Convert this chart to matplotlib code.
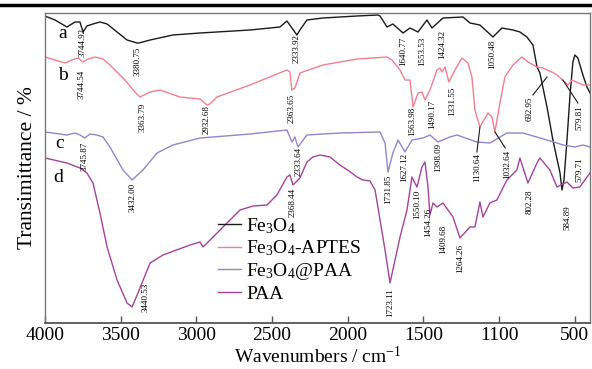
import matplotlib
matplotlib.use('Agg')
import matplotlib.pyplot as plt
from matplotlib.lines import Line2D

plt.rcParams['font.family'] = ['Liberation Serif', 'DejaVu Serif']
plt.rcParams['mathtext.fontset'] = 'custom'
plt.rcParams['mathtext.rm'] = 'Liberation Serif'
plt.rcParams['mathtext.it'] = 'Liberation Serif:italic'

# spectra: wavenumber (cm-1) and transmittance (arbitrary, stacked)
wn_a = [4000, 3934, 3855, 3802, 3769, 3749, 3723, 3683, 3637, 3590, 3524, 3458, 3392, 3379,
        3306, 3155, 2976, 2646, 2448, 2402, 2369, 2336, 2316, 2270, 2164, 1939, 1801, 1787,
        1741, 1702, 1635, 1589, 1536, 1477, 1444, 1371, 1239, 1193, 1127, 1041, 982, 909,
        863, 817, 777, 750, 731, 684, 645, 598, 585, 572, 552, 532, 513, 500, 480, 447, 420, 400]
tr_a = [307, 303, 296, 301, 301, 291, 297, 299, 301, 299, 291, 283, 280, 280,
        283, 288, 290, 293, 296, 302, 295, 288, 293, 303, 305, 307, 308, 307,
        296, 299, 290, 295, 291, 303, 295, 305, 306, 300, 298, 286, 295, 293,
        291, 286, 278, 256, 250, 216, 183, 150, 133, 143, 183, 228, 261, 268, 265, 248, 236, 230]

wn_b = [4000, 3934, 3868, 3822, 3782, 3749, 3716, 3670, 3617, 3571, 3472, 3406, 3373, 3306,
        3240, 3108, 2976, 2930, 2910, 2864, 2646, 2402, 2382, 2369, 2349, 2316, 2164, 1939,
        1741, 1708, 1655, 1622, 1589, 1569, 1536, 1510, 1490, 1457, 1411, 1391, 1378, 1358,
        1332, 1292, 1246, 1206, 1180, 1160, 1127, 1074, 1048, 1028, 995, 962, 909, 850, 810,
        750, 711, 652, 618, 546, 519, 447, 400]
tr_b = [266, 263, 260, 263, 265, 261, 264, 266, 264, 258, 243, 231, 226, 231,
        233, 226, 224, 218, 219, 226, 238, 253, 251, 233, 235, 250, 258, 264,
        266, 263, 253, 243, 243, 216, 230, 231, 223, 233, 253, 255, 251, 256,
        241, 253, 265, 260, 246, 213, 196, 210, 206, 191, 220, 246, 258, 266, 261,
        256, 255, 251, 248, 238, 243, 238, 238]

wn_c = [4000, 3855, 3802, 3769, 3736, 3703, 3657, 3617, 3571, 3485, 3425, 3353, 3260, 3155,
        2976, 2890, 2646, 2402, 2369, 2349, 2329, 2270, 2052, 1787, 1754, 1734, 1702, 1668,
        1622, 1576, 1503, 1457, 1404, 1325, 1279, 1147, 1061, 949, 843, 618, 579, 500, 447, 400]
tr_c = [191, 188, 190, 188, 185, 189, 188, 186, 176, 153, 143, 153, 170, 178,
        185, 186, 189, 193, 181, 186, 176, 188, 190, 191, 180, 151, 170, 183,
        171, 183, 185, 188, 181, 186, 188, 181, 180, 190, 190, 180, 178, 176, 178, 176]

wn_d = [4000, 3855, 3769, 3723, 3683, 3637, 3590, 3524, 3458, 3425, 3386, 3306, 3221, 3042,
        2976, 2956, 2890, 2798, 2712, 2626, 2534, 2468, 2402, 2382, 2362, 2316, 2270, 2230,
        2184, 2118, 2052, 1992, 1939, 1900, 1853, 1820,
        1801, 1754, 1721, 1688, 1655, 1609, 1576, 1543, 1510, 1490, 1470, 1457, 1437, 1411,
        1371, 1305, 1259, 1193, 1160, 1127, 1107, 1061, 1015, 949, 883, 863, 810, 750, 731,
        665, 618, 552, 513, 467, 420, 400]
tr_d = [165, 160, 155, 150, 140, 110, 76, 43, 20, 16, 30, 60, 68, 78,
        81, 76, 86, 100, 113, 117, 118, 128, 146, 148, 138, 145, 161, 166,
        168, 166, 158, 152, 146, 143, 142, 133,
        116, 73, 40, 63, 86, 113, 146, 136, 156, 161, 136, 108, 120, 116,
        120, 106, 85, 96, 96, 121, 106, 120, 123, 143, 153, 165, 140, 160, 165,
        153, 136, 141, 135, 136, 146, 150]

series_names = ['Fe$_3$O$_4$', 'Fe$_3$O$_4$-APTES', 'Fe$_3$O$_4$@PAA', 'PAA']
series_colors = ['#1a1a1a', '#f0808f', '#9585c8', '#a2449c']
series_letters = ['a', 'b', 'c', 'd']

# peak labels: text, wavenumber, top of text
peak_text = ['3744.92', '3380.75', '2333.92', '1640.77', '1553.53', '1424.32', '1050.48',
             '3744.54', '3363.79', '2932.68', '2363.65', '1563.98', '1490.17', '1331.55',
             '1130.64', '1032.64', '692.95', '579.81',
             '3745.87', '3432.00', '2333.64', '1731.85', '1627.12', '1398.09', '579.71',
             '2368.44', '1723.11', '1550.10', '1454.26', '1409.68', '1264.26', '802.28',
             '584.89', '3440.53']
peak_x = [3749, 3392, 2336, 1635, 1510, 1378, 1048,
          3756, 3359, 2930, 2369, 1576, 1444, 1312,
          1147, 949, 797, 467,
          3736, 3419, 2322, 1734, 1629, 1404, 467,
          2362, 1721, 1543, 1470, 1371, 1259, 797,
          546, 3333]
peak_y = [295, 276, 289, 286, 286, 293, 283,
          253, 220, 218, 229, 216, 223, 236,
          170, 173, 226, 218,
          181, 140, 176, 148, 170, 180, 166,
          135, 35, 133, 115, 98, 79, 133,
          118, 40]

# leader lines (label end -> band)
leaders = [((1147, 171), (1127, 196)), ((960, 175), (1028, 191)),
           ((777, 228), (684, 246)), ((480, 220), (579, 243))]

xtick_pos = [4000, 3500, 3000, 2500, 2000, 1500, 1000, 500]
xtick_lab = ['4000', '3500', '3000', '2500', '2000', '1500', '1100', '500']

fig = plt.figure(figsize=(5.92, 3.69), dpi=100)
ax = fig.add_axes([45 / 592, 1 - 323 / 369, 545 / 592, 310 / 369])

for wn, tr, name, col in zip([wn_a, wn_b, wn_c, wn_d], [tr_a, tr_b, tr_c, tr_d],
                             series_names, series_colors):
    ax.plot(wn, tr, color=col, lw=1.0, label=name)

for t, x, y in zip(peak_text, peak_x, peak_y):
    ax.text(x, y, t, rotation=90, ha='center', va='top', fontsize=6.5)

for (x0, y0), (x1, y1) in leaders:
    ax.plot([x0, x1], [y0, y1], color='#1a1a1a', lw=0.8)

letter_x = [3881, 3881, 3901, 3914]
letter_y = [290, 248, 180, 146]
for s, x, y in zip(series_letters, letter_x, letter_y):
    ax.text(x, y, s, fontsize=14, ha='center', va='center')

ax.set_xlim(4000, 400)
ax.set_ylim(0, 310)
ax.set_xticks(xtick_pos)
ax.set_xticklabels(xtick_lab)
ax.set_yticks([])
ax.tick_params(axis='x', direction='in', length=5, width=1, color='#555555',
               labelsize=14, pad=3)
for sp in ax.spines.values():
    sp.set_color('#777777')
    sp.set_linewidth(1.0)
ax.spines['bottom'].set_color('#555555')
ax.spines['bottom'].set_linewidth(1.3)

ax.set_xlabel('Wavenumbers / cm$^{-1}$', fontsize=14, labelpad=1)
ax.set_ylabel('Transimittance / %', fontsize=15.5, labelpad=6)

ax.legend(loc='upper left', bbox_to_anchor=(218 / 592, 1 - 216 / 369),
          bbox_transform=fig.transFigure, frameon=False, fontsize=14,
          handlelength=1.2, handletextpad=0.25, labelspacing=0.15, borderpad=0,
          borderaxespad=0)

# rule across the top of the page
fig.add_artist(Line2D([0, 1], [1 - 5 / 369, 1 - 5 / 369], color='black', lw=2.5,
                      transform=fig.transFigure))

fig.savefig('out.png', dpi=100)
